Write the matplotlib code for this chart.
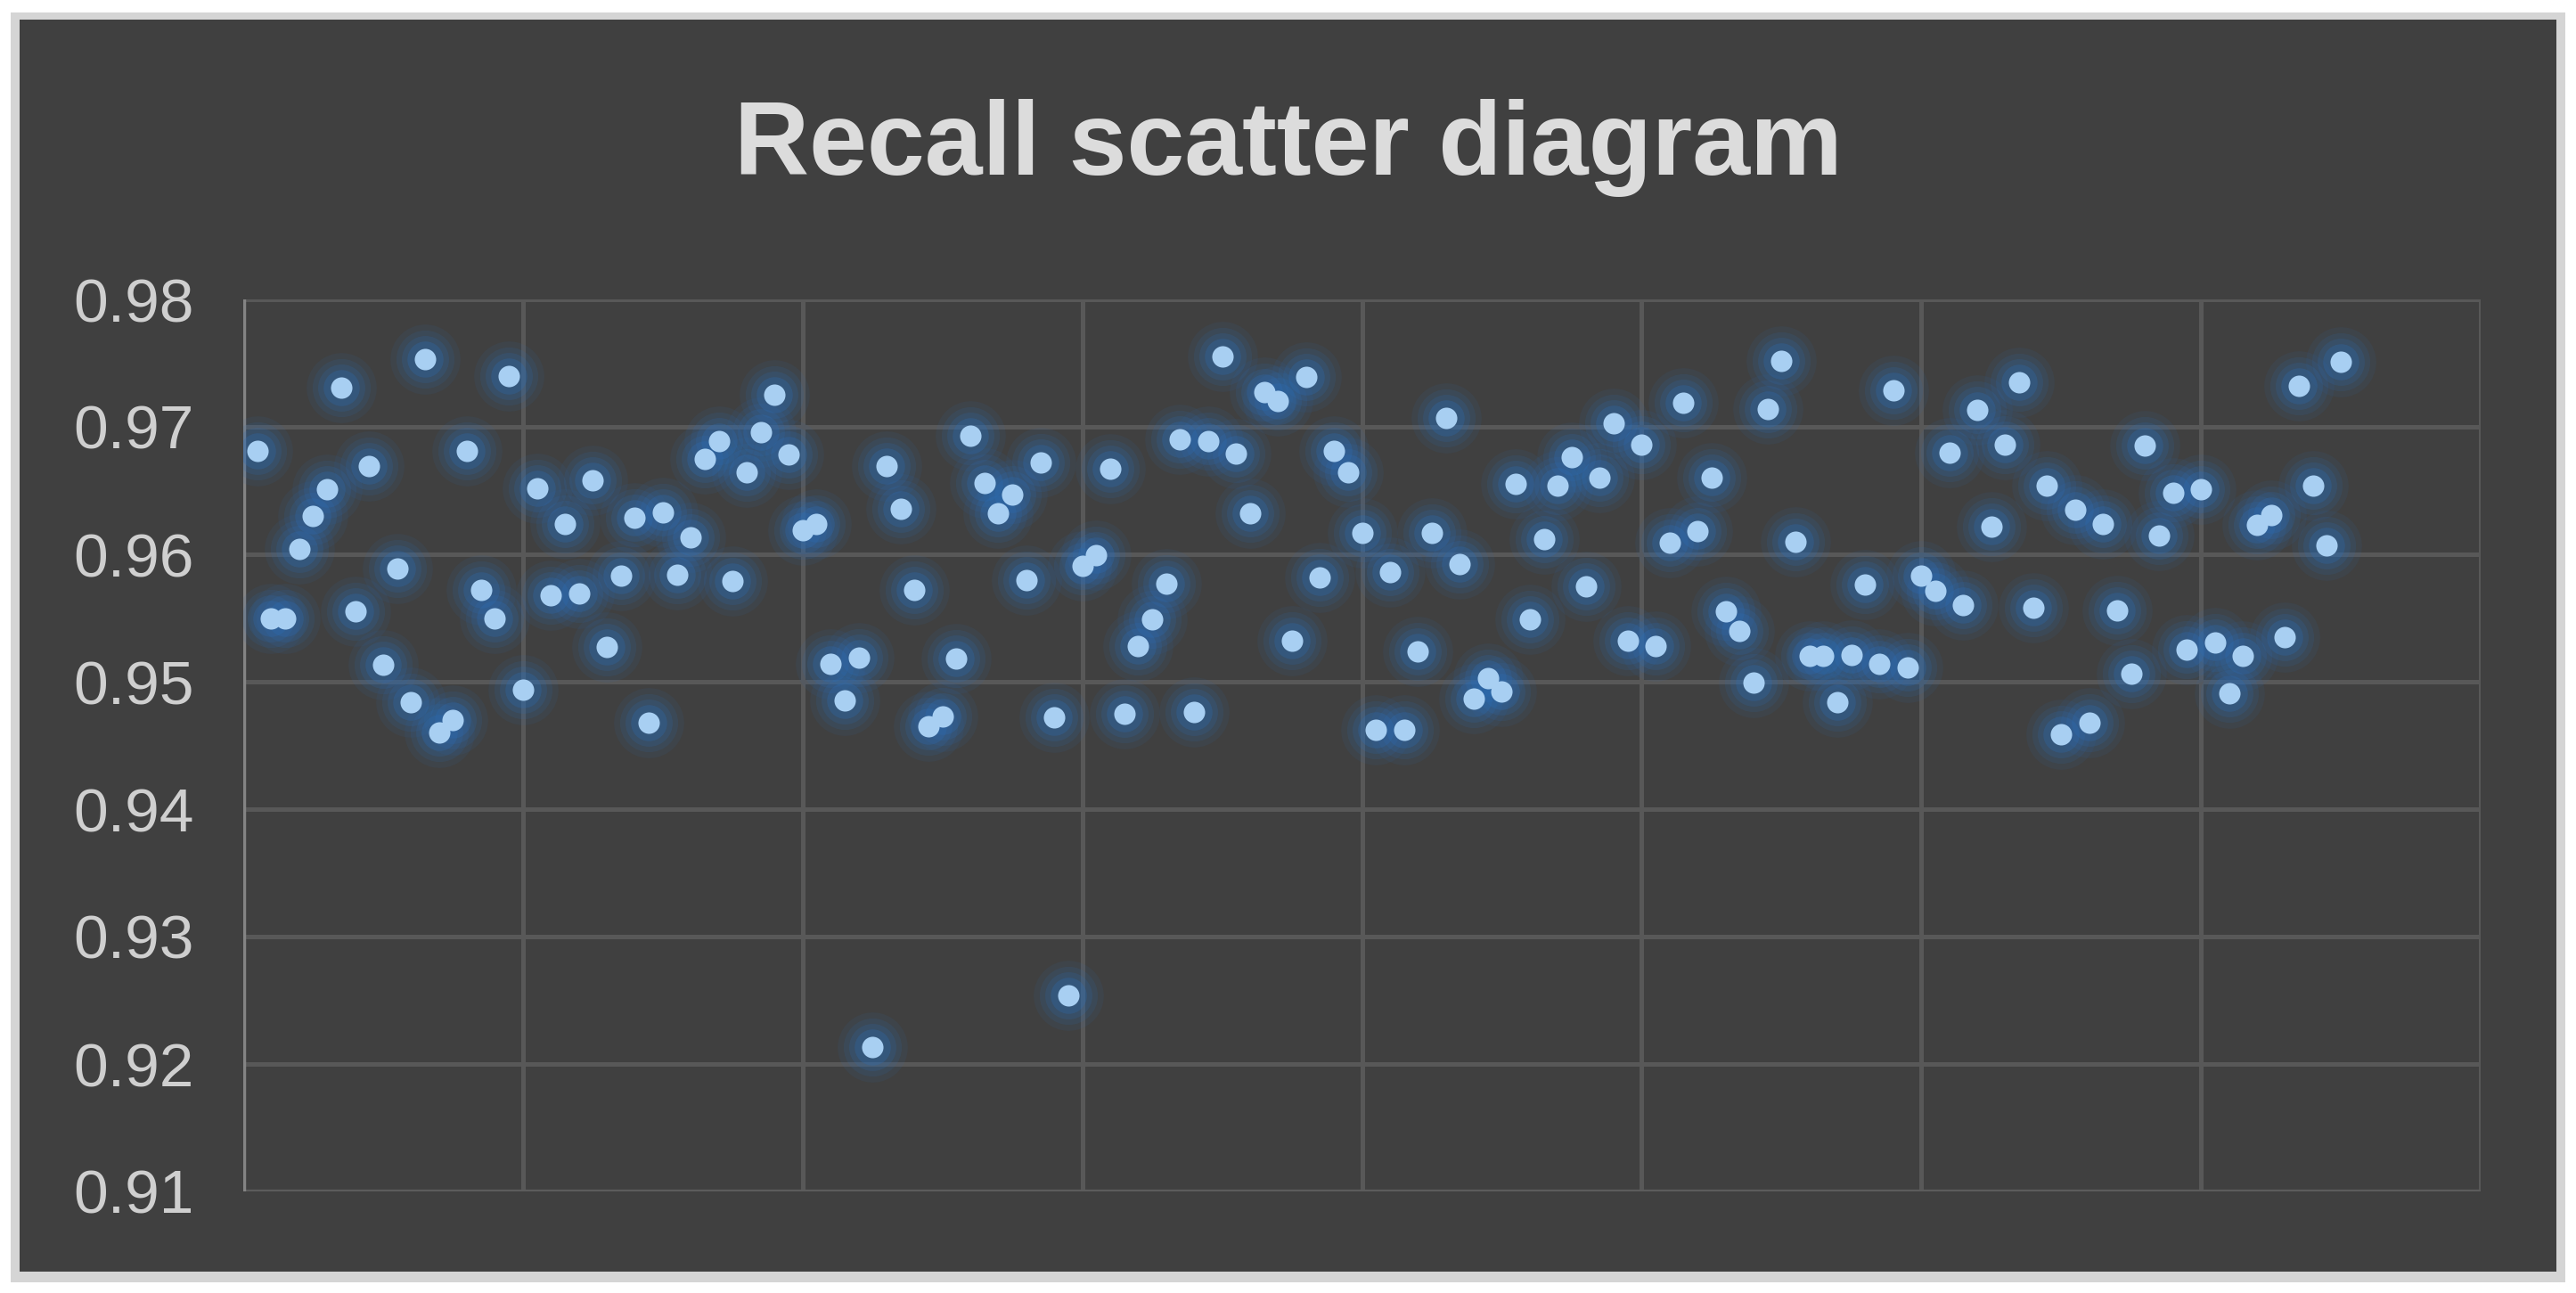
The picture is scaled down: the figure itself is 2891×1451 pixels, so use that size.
import matplotlib
matplotlib.use("Agg")
import matplotlib.pyplot as plt
from matplotlib.patches import Rectangle
import numpy as np

# ---- data ----
sample_index = list(range(1, 151))
recall = [
    0.9681, 0.9550, 0.9550, 0.9604, 0.9630, 0.9651, 0.9731, 0.9555, 0.9669, 0.9513,
    0.9589, 0.9484, 0.9753, 0.9460, 0.9470, 0.9681, 0.9572, 0.9550, 0.9740, 0.9494,
    0.9652, 0.9568, 0.9624, 0.9569, 0.9658, 0.9527, 0.9583, 0.9629, 0.9468, 0.9633,
    0.9584, 0.9613, 0.9675, 0.9689, 0.9579, 0.9664, 0.9696, 0.9725, 0.9678, 0.9619,
    0.9624, 0.9514, 0.9485, 0.9519, 0.9213, 0.9669, 0.9636, 0.9572, 0.9465, 0.9473,
    0.9518, 0.9693, 0.9656, 0.9632, 0.9647, 0.9580, 0.9672, 0.9472, 0.9254, 0.9591,
    0.9599, 0.9667, 0.9475, 0.9528, 0.9549, 0.9577, 0.9690, 0.9476, 0.9689, 0.9755,
    0.9679, 0.9632, 0.9727, 0.9720, 0.9532, 0.9739, 0.9582, 0.9681, 0.9664, 0.9617,
    0.9462, 0.9586, 0.9462, 0.9524, 0.9617, 0.9707, 0.9592, 0.9487, 0.9503, 0.9492,
    0.9655, 0.9549, 0.9612, 0.9654, 0.9676, 0.9575, 0.9660, 0.9703, 0.9532, 0.9686,
    0.9528, 0.9609, 0.9719, 0.9618, 0.9660, 0.9555, 0.9540, 0.9499, 0.9714, 0.9752,
    0.9610, 0.9520, 0.9520, 0.9484, 0.9521, 0.9576, 0.9514, 0.9729, 0.9511, 0.9583,
    0.9571, 0.9680, 0.9560, 0.9713, 0.9622, 0.9686, 0.9735, 0.9558, 0.9654, 0.9459,
    0.9635, 0.9468, 0.9624, 0.9556, 0.9506, 0.9685, 0.9615, 0.9648, 0.9525, 0.9651,
    0.9531, 0.9491, 0.9520, 0.9623, 0.9631, 0.9535, 0.9732, 0.9654, 0.9607, 0.9751,
]
y_ticks = [0.91, 0.92, 0.93, 0.94, 0.95, 0.96, 0.97, 0.98]
y_tick_labels = ["0.91", "0.92", "0.93", "0.94", "0.95", "0.96", "0.97", "0.98"]
x_grid = [20, 40, 60, 80, 100, 120, 140, 160]
title = "Recall scatter diagram"

W, H = 2891, 1451
DPI = 100
fig = plt.figure(figsize=(W / DPI, H / DPI), dpi=DPI)
fig.patch.set_facecolor("white")

# background frame (own axes, drawn beneath)
bg = fig.add_axes([0, 0, 1, 1], zorder=0)
bg.set_xlim(0, W)
bg.set_ylim(0, H)
bg.axis("off")
bg.add_patch(Rectangle((12, 12), W - 24, H - 26, facecolor="#d5d5d5", edgecolor="none"))
bg.add_patch(Rectangle((22, 24), W - 44, H - 46, facecolor="#404040", edgecolor="none"))

left, right = 273 / W, 2784 / W
bottom, top = 1 - 1337 / H, 1 - 336 / H
ax = fig.add_axes([left, bottom, right - left, top - bottom], zorder=1)
ax.set_facecolor("none")
ax.patch.set_alpha(0)

ax.set_xlim(0, 160)
ax.set_ylim(0.91, 0.98)

grid_col = "#585858"
for yv_ in y_ticks[1:]:
    ax.axhline(yv_, color=grid_col, lw=3.6, zorder=1)
for xv in x_grid:
    ax.axvline(xv, color=grid_col, lw=3.6, zorder=1)

for s in ax.spines.values():
    s.set_visible(False)
ax.axhline(0.91, color="#5c5c5c", lw=3.8, zorder=1)
ax.axvline(0, color="#848484", lw=4.6, zorder=2)

# glow layers
x = np.array(sample_index)
yv = np.array(recall)
for size, alpha in [(3200, 0.09), (2200, 0.13), (1450, 0.18), (850, 0.28)]:
    ax.scatter(x, yv, s=size, color="#2c6db5", alpha=alpha, linewidths=0, zorder=3)
ax.scatter(x, yv, s=300, color="#a8cff2", linewidths=0, zorder=4)

ax.set_xticks([])
ax.set_yticks(y_ticks)
ax.set_yticklabels(y_tick_labels)
ax.tick_params(axis="y", length=0, pad=40, labelsize=50, labelcolor="#cfcfcf")
for lab in ax.get_yticklabels():
    lab.set_family("Liberation Sans")

fig.text(0.5, 1 - 166 / H, title, ha="center", va="center",
         fontsize=84, fontweight="bold", color="#dcdcdc", family="Liberation Sans")

fig.savefig("out.png", dpi=DPI)
